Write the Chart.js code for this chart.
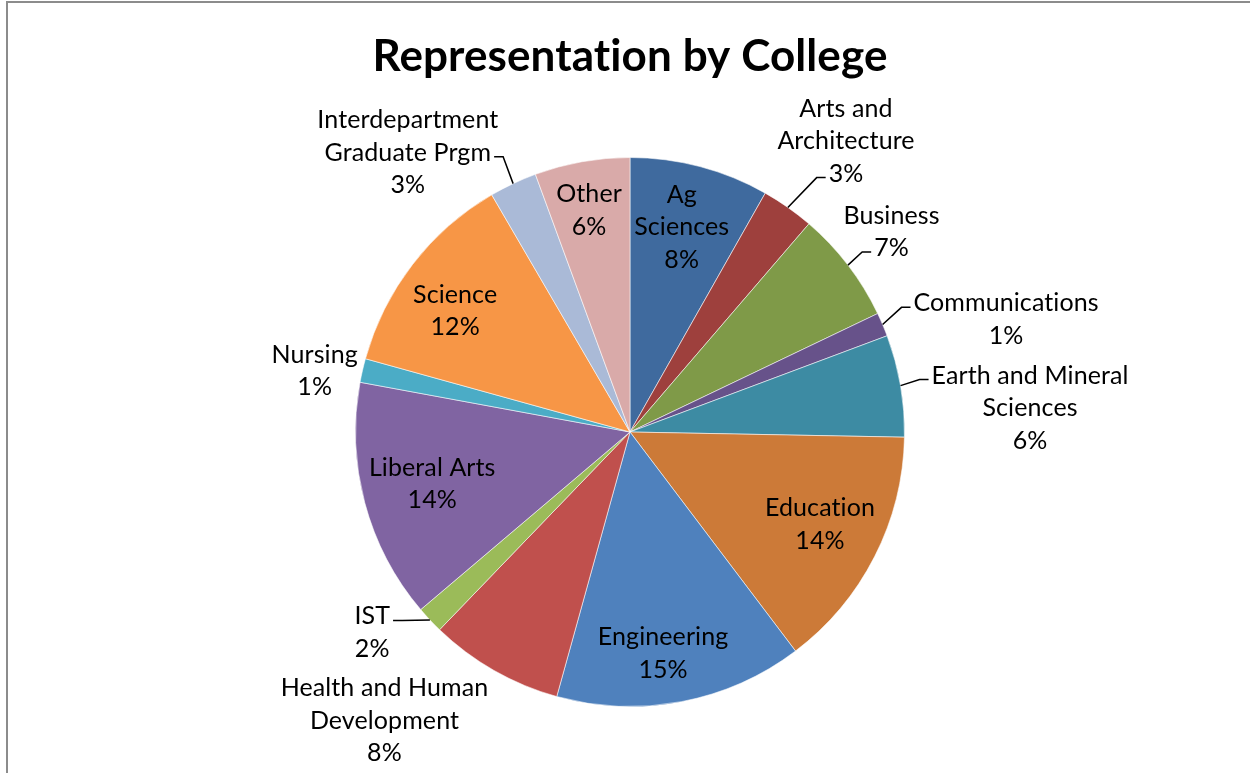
<!DOCTYPE html>
<html>
<head>
<meta charset="utf-8">
<title>Representation by College</title>
<script src="https://cdn.jsdelivr.net/npm/chart.js@4"></script>
<style>
  html, body { margin: 0; padding: 0; background: #fff; }
  #wrap { position: relative; width: 1250px; height: 773px; }
</style>
</head>
<body>
<div id="wrap"><canvas id="pie-chart"></canvas></div>
<script>
// colleges, clockwise from 12 o'clock (multi-line names as they are printed)
var colleges = [
  ["Ag", "Sciences"],
  ["Arts and", "Architecture"],
  ["Business"],
  ["Communications"],
  ["Earth and Mineral", "Sciences"],
  ["Education"],
  ["Engineering"],
  ["Health and Human", "Development"],
  ["IST"],
  ["Liberal Arts"],
  ["Nursing"],
  ["Science"],
  ["Interdepartment", "Graduate Prgm"],
  ["Other"]
];

// share of members, percent
var share = [8.2, 3.1, 6.6, 1.4, 6.0, 14.4, 14.6, 7.9, 1.6, 14.1, 1.4, 12.3, 2.8, 5.6];

var sliceColors = [
  "#3f6a9e", "#9e403d", "#7f9a48", "#67528a", "#3d8ba3", "#cc7a38", "#4f81bd",
  "#c0504d", "#9bbb59", "#8064a2", "#4bacc6", "#f79646", "#aabad7", "#d9aaa9"
];

// where each label sits: dist = fraction of radius from centre along the slice,
// turn = degrees clockwise from the slice middle, lead = line index the leader hooks onto
var labelPlace = [
  { dist: 0.77, turn: -0.6 },
  { dist: 1.32, turn: 1.5, lead: 2 },
  { dist: 1.20, turn: 0, lead: 1 },
  { dist: 1.43, turn: 6.4, lead: 0 },
  { dist: 1.46, turn: 6.3, lead: 0 },
  { dist: 0.77, turn: -1 },
  { dist: 0.815, turn: 2.3 },
  { dist: 1.38, turn: 10.7 },
  { dist: 1.19, turn: 5.3, lead: 0 },
  { dist: 0.745, turn: 0.2 },
  { dist: 1.17, turn: -2 },
  { dist: 0.775, turn: -2.9 },
  { dist: 1.30, turn: -13.3, lead: 1 },
  { dist: 0.82, turn: -0.4 }
];

var labelFont = "25px Lato";
var lineH = 32.5;

// thin grey frame along the left and top edge
var framePlugin = {
  id: "frame",
  beforeDraw: function(chart) {
    var ctx = chart.ctx;
    ctx.save();
    ctx.fillStyle = "#fff";
    ctx.fillRect(0, 0, chart.width, chart.height);
    ctx.strokeStyle = "#8c8c8c";
    ctx.lineWidth = 2;
    ctx.beginPath();
    ctx.moveTo(7, chart.height);
    ctx.lineTo(7, 2);
    ctx.lineTo(chart.width, 2);
    ctx.stroke();
    ctx.restore();
    // a tiny letter spacing keeps Lato from joining "ti" into a ligature
    ctx.letterSpacing = "0.1px";
  }
};

// category name + percentage on every slice, leader lines for the small ones
var sliceLabels = {
  id: "sliceLabels",
  afterDatasetsDraw: function(chart) {
    var ctx = chart.ctx;
    var ds = chart.data.datasets[0];
    var total = ds.data.reduce(function(a, b) { return a + b; }, 0);
    var meta = chart.getDatasetMeta(0);
    ctx.save();
    ctx.font = labelFont;
    ctx.letterSpacing = "0.1px";
    ctx.fillStyle = "#000";
    ctx.textAlign = "center";
    ctx.textBaseline = "middle";
    meta.data.forEach(function(arc, i) {
      var p = arc.getProps(["x", "y", "startAngle", "endAngle", "outerRadius"], true);
      var place = labelPlace[i];
      var mid = (p.startAngle + p.endAngle) / 2;
      var a = mid + place.turn * Math.PI / 180;
      var cx = p.x + Math.cos(a) * p.outerRadius * place.dist;
      var cy = p.y + Math.sin(a) * p.outerRadius * place.dist;
      var lines = chart.data.labels[i].concat([Math.round(ds.data[i] / total * 100) + "%"]);
      var top = cy - lines.length * lineH / 2;
      lines.forEach(function(t, k) {
        ctx.fillText(t, cx, top + lineH * (k + 0.5));
      });
      if (place.lead !== undefined) {
        var sx = p.x + Math.cos(mid) * p.outerRadius;
        var sy = p.y + Math.sin(mid) * p.outerRadius;
        var w = ctx.measureText(lines[place.lead]).width;
        var ty = top + lineH * (place.lead + 0.5) + 4;
        var side = cx > p.x ? -1 : 1;
        var edge = cx + side * w / 2;
        ctx.save();
        ctx.strokeStyle = "#000";
        ctx.lineWidth = 1.5;
        ctx.beginPath();
        ctx.moveTo(sx, sy);
        ctx.lineTo(edge + side * 12, ty);
        ctx.lineTo(edge + side * 3, ty);
        ctx.stroke();
        ctx.restore();
      }
    });
    ctx.restore();
  }
};

new Chart(document.getElementById("pie-chart"), {
  type: "pie",
  data: {
    labels: colleges,
    datasets: [
      {
        label: "Representation",
        data: share,
        backgroundColor: sliceColors,
        borderColor: "rgba(255,255,255,0.55)",
        borderWidth: 1,
        hoverOffset: 0
      }
    ]
  },
  options: {
    responsive: true,
    maintainAspectRatio: false,
    animation: false,
    layout: { padding: { left: 10, right: 0, top: 0, bottom: 66 } },
    plugins: {
      legend: { display: false },
      tooltip: { enabled: false },
      title: {
        display: true,
        text: "Representation by College",
        color: "#000",
        font: { family: "Lato", size: 44, weight: "bold" },
        padding: { top: 30, bottom: 74.2 }
      }
    }
  },
  plugins: [framePlugin, sliceLabels]
});
</script>
</body>
</html>
